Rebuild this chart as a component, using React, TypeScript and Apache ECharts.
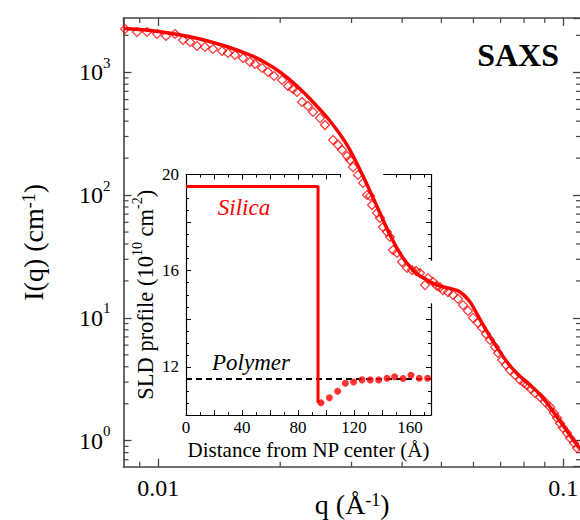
import React, { useEffect, useRef } from 'react';
import * as echarts from 'echarts';

// SAXS measured data (q in Å^-1, I in cm^-1)
const qData = [
  0.00828, 0.00886, 0.00938, 0.00993, 0.01045, 0.011, 0.01151, 0.01198, 0.01246, 0.01304,
  0.01365, 0.01437, 0.01486, 0.01547, 0.01619, 0.01684, 0.01733, 0.01803, 0.01866, 0.01931,
  0.02021, 0.02091, 0.02151,
  0.02201, 0.02264, 0.02342, 0.0241, 0.02508, 0.0258, 0.027, 0.02778, 0.02842, 0.02924,
  0.02974, 0.03025, 0.03112, 0.03202, 0.03276, 0.03332, 0.03371, 0.03467, 0.03527, 0.03588,
  0.0367, 0.03733, 0.03798, 0.03885, 0.03997, 0.04113, 0.04231, 0.04328, 0.04428, 0.04555,
  0.04634, 0.04768, 0.04877, 0.04962,
  0.05047, 0.05192, 0.05342, 0.05495, 0.05653, 0.05817, 0.05984, 0.06157, 0.06299, 0.06444,
  0.06592, 0.06782, 0.06899, 0.07057, 0.0722, 0.07386, 0.07598, 0.07818, 0.07998, 0.08136,
  0.08322, 0.08514, 0.0876, 0.09013, 0.09273, 0.09484, 0.09648, 0.09815, 0.09984, 0.1021,
  0.1039, 0.1063, 0.1081,
];
const iData = [
  2252, 2129, 2129, 2051, 1975, 2051, 1832, 1765, 1637, 1607,
  1548, 1491, 1436, 1383, 1307, 1213, 1169, 1084, 1006, 933,
  866, 773, 731,
  691, 573, 532, 475, 424, 372, 281, 256, 233, 208,
  193, 169, 146, 125.5, 100.2, 98.3, 83.0, 71.5, 65.1, 55.0,
  50.1, 45.6, 35.7, 33.8, 28.5, 25.5, 24.5, 24.1, 23.2, 18.5,
  21.1, 19.6, 18.2, 17.8,
  16.8, 16.2, 15.4, 14.3, 12.7, 11.4, 10.0, 9.09, 8.28, 7.39,
  6.61, 5.79, 5.18, 4.54, 4.14, 3.76, 3.43, 3.12, 2.95, 2.84,
  2.64, 2.45, 2.27, 2.07, 1.88, 1.68, 1.53, 1.39, 1.27, 1.155,
  1.052, 0.958, 0.872,
];

// Model fit
const qFit = [
  0.00823, 0.009539, 0.010996, 0.012678, 0.01461, 0.016842, 0.018346, 0.019977, 0.022001, 0.024099,
  0.026542, 0.029239, 0.031843, 0.034281, 0.03734, 0.0402, 0.04256, 0.04429, 0.04877, 0.05251,
  0.05559, 0.05885, 0.06124, 0.06336, 0.06592, 0.0686, 0.07261, 0.07686, 0.08137, 0.08613,
  0.09117, 0.09648, 0.10212, 0.10809, 0.1105,
];
const iFit = [
  2273, 2190, 2051, 1867, 1637, 1383, 1202, 1006, 773, 573,
  401, 256, 148.5, 87.9, 47.3, 30.7, 24.5, 21.9, 18.5, 17.35,
  16.25, 13.47, 10.76, 8.76, 7.06, 5.74, 4.375, 3.525, 2.978, 2.516,
  2.028, 1.56, 1.2, 0.923, 0.845,
];

// Minor tick values of the log axes
const xMinorTicks = [0.009, 0.02, 0.03, 0.04, 0.05, 0.06, 0.07, 0.08, 0.09];
const yMinorTicks = [
  0.7, 0.8, 0.9, 2, 3, 4, 5, 6, 7, 8, 9, 20, 30, 40, 50, 60, 70, 80, 90,
  200, 300, 400, 500, 600, 700, 800, 900, 2000,
];

// Inset: SLD profile
const distDots = [96.4, 102.4, 108.3, 113.8, 119.7, 125.7, 131.6, 137.6, 143.6, 149.0, 155.0, 160.7, 166.6, 172.6];
const sldDots = [10.51, 10.72, 10.99, 11.32, 11.37, 11.46, 11.46, 11.46, 11.53, 11.59, 11.52, 11.65, 11.53, 11.53];
const silicaX = [0, 94.3, 94.3];
const silicaY = [19.5, 19.5, 10.5];
const polymerX = [0, 175];
const polymerY = [11.5, 11.5];

const FONT = '"Liberation Serif", "Times New Roman", "DejaVu Serif", serif';
const RED = '#ff0000';
const AXIS = '#444';

const isPow10 = (v: number) => Math.abs(Math.log10(v) - Math.round(Math.log10(v))) < 1e-6;

export default function App() {
  const ref = useRef<HTMLDivElement>(null);
  useEffect(() => {
    if (!ref.current) return;
    const chart = echarts.init(ref.current, null, { renderer: 'svg' });
    const fit = qFit.map((q, i) => [q, iFit[i]]);
    const pts = qData.map((q, i) => [q, iData[i]]);
    const dots = distDots.map((d, i) => [d, sldDots[i]]);
    const silica = silicaX.map((d, i) => [d, silicaY[i]]);
    const polymer = polymerX.map((d, i) => [d, polymerY[i]]);

    const mainTick = { show: true, inside: true, length: 8, lineStyle: { color: AXIS, width: 1.3 } };
    const mainLine = { show: true, lineStyle: { color: AXIS, width: 1.6 } };
    const insetLine = { show: true, onZero: false, lineStyle: { color: '#000', width: 1.2 } };
    const insetTick = { show: true, inside: true, length: 5, lineStyle: { color: '#000', width: 1 } };
    const insetMinor = { show: true, length: 3, lineStyle: { color: '#000', width: 1 } };
    const xMin = 0.008206, xMax = 0.11058, yMin = 0.6141, yMax = 2768;
    const titleRich = {
      a: { fontSize: 28, fontFamily: FONT, color: '#000', lineHeight: 28 },
      b: { fontSize: 18, fontFamily: FONT, color: '#000', lineHeight: 4, verticalAlign: 'top' },
    };

    const option: any = {
      animation: false,
      backgroundColor: '#fff',
      grid: [
        { left: 123.5, top: 18, right: -1, bottom: 53.3, containLabel: false, outerBoundsMode: 'none' },
        { left: 186, top: 174.5, right: 149, bottom: 105, containLabel: false, outerBoundsMode: 'none' },
      ],
      xAxis: [
        {
          gridIndex: 0, type: 'log', logBase: 10, min: xMin, max: xMax, position: 'bottom', z: 5,
          axisLine: mainLine, axisTick: mainTick, splitLine: { show: false },
          axisLabel: {
            formatter: (v: number) => (isPow10(v) ? String(Number(v.toPrecision(6))) : ''),
            fontSize: 24, fontFamily: FONT, color: '#000', margin: 9,
            showMinLabel: false, showMaxLabel: false,
          },
          name: '{a|q (Å}{b|-1}{a|)}', nameLocation: 'middle', nameGap: 24, nameMoveOverlap: false,
          nameTextStyle: { rich: titleRich },
        },
        {
          gridIndex: 0, type: 'log', logBase: 10, min: xMin, max: xMax, position: 'top', z: 5,
          axisLine: mainLine, axisTick: mainTick, splitLine: { show: false }, axisLabel: { show: false },
        },
        {
          gridIndex: 1, type: 'value', min: 0, max: 175, interval: 20, position: 'bottom',
          axisLine: insetLine, axisTick: insetTick, minorTick: { ...insetMinor, splitNumber: 2 },
          splitLine: { show: false },
          axisLabel: {
            formatter: (v: number) => (v % 40 === 0 ? String(v) : ''),
            fontSize: 17, fontFamily: FONT, color: '#000', margin: 4, showMaxLabel: false,
          },
          name: 'Distance from NP center (Å)', nameLocation: 'middle', nameGap: 24, nameMoveOverlap: false,
          nameTextStyle: { fontSize: 21, fontFamily: FONT, color: '#000' },
        },
        {
          gridIndex: 1, type: 'value', min: 0, max: 175, interval: 20, position: 'top',
          axisLine: insetLine, axisTick: insetTick, minorTick: { ...insetMinor, splitNumber: 2 },
          splitLine: { show: false }, axisLabel: { show: false },
        },
      ],
      yAxis: [
        {
          gridIndex: 0, type: 'log', logBase: 10, min: yMin, max: yMax, position: 'left', z: 5,
          axisLine: mainLine, axisTick: mainTick, splitLine: { show: false },
          axisLabel: {
            formatter: (v: number) => (isPow10(v) ? '{a|10}{b|' + Math.round(Math.log10(v)) + '}' : ''),
            margin: 13, showMinLabel: false, showMaxLabel: false,
            rich: {
              a: { fontSize: 24, fontFamily: FONT, color: '#000', lineHeight: 34 },
              b: { fontSize: 15, fontFamily: FONT, color: '#000', lineHeight: 15, verticalAlign: 'top' },
            },
          },
          name: '{a|I(q) (cm}{b|-1}{a|)}', nameLocation: 'middle', nameGap: 76, nameRotate: 90, nameMoveOverlap: false,
          nameTextStyle: { rich: titleRich },
        },
        {
          gridIndex: 0, type: 'log', logBase: 10, min: yMin, max: yMax, position: 'right', z: 5,
          axisLine: mainLine, axisTick: mainTick, splitLine: { show: false }, axisLabel: { show: false },
        },
        {
          gridIndex: 1, type: 'value', min: 10, max: 20, interval: 2, position: 'left',
          axisLine: insetLine, axisTick: insetTick, minorTick: { ...insetMinor, splitNumber: 4 },
          splitLine: { show: false },
          axisLabel: {
            formatter: (v: number) => (v % 4 === 0 ? String(v) : ''),
            fontSize: 17, fontFamily: FONT, color: '#000', margin: 7,
          },
          name: '{a|SLD profile (10}{b|10}{a| cm}{b|-2}{a|)}', nameLocation: 'middle', nameGap: 26, nameRotate: 90,
          nameMoveOverlap: false,
          nameTextStyle: {
            rich: {
              a: { fontSize: 22.5, fontFamily: FONT, color: '#000', lineHeight: 30 },
              b: { fontSize: 14, fontFamily: FONT, color: '#000', lineHeight: 11, verticalAlign: 'top' },
            },
          },
        },
        {
          gridIndex: 1, type: 'value', min: 10, max: 20, interval: 2, position: 'right',
          axisLine: insetLine, axisTick: insetTick, minorTick: { ...insetMinor, splitNumber: 4 },
          splitLine: { show: false }, axisLabel: { show: false },
        },
      ],
      series: [
        {
          // white halo around the fit that masks the inset frame
          type: 'line', xAxisIndex: 0, yAxisIndex: 0, data: fit, smooth: 0.3, showSymbol: false,
          silent: true, z: 1, lineStyle: { color: '#fff', width: 38 },
        },
        {
          type: 'custom', xAxisIndex: 0, yAxisIndex: 0, z: 5, silent: true,
          data: xMinorTicks.map((v) => [v, 1]),
          renderItem: (params: any, api: any) => {
            const cs = params.coordSys;
            const x = api.coord([api.value(0), 1])[0];
            const st = { stroke: AXIS, lineWidth: 1.2 };
            return {
              type: 'group',
              children: [
                { type: 'line', shape: { x1: x, y1: cs.y, x2: x, y2: cs.y + 5 }, style: st },
                { type: 'line', shape: { x1: x, y1: cs.y + cs.height, x2: x, y2: cs.y + cs.height - 5 }, style: st },
              ],
            };
          },
        },
        {
          type: 'custom', xAxisIndex: 0, yAxisIndex: 0, z: 5, silent: true,
          data: yMinorTicks.map((v) => [0.01, v]),
          renderItem: (params: any, api: any) => {
            const cs = params.coordSys;
            const y = api.coord([0.01, api.value(1)])[1];
            const st = { stroke: AXIS, lineWidth: 1.2 };
            return {
              type: 'group',
              children: [
                { type: 'line', shape: { x1: cs.x, y1: y, x2: cs.x + 5, y2: y }, style: st },
                { type: 'line', shape: { x1: cs.x + cs.width, y1: y, x2: cs.x + cs.width - 5, y2: y }, style: st },
              ],
            };
          },
        },
        {
          type: 'line', xAxisIndex: 2, yAxisIndex: 2, data: polymer, showSymbol: false, z: 3, silent: true,
          lineStyle: { color: '#000', width: 2, type: [6, 4] },
        },
        {
          type: 'line', xAxisIndex: 2, yAxisIndex: 2, data: silica, showSymbol: false, z: 3, silent: true,
          lineStyle: { color: RED, width: 3 },
        },
        {
          type: 'scatter', xAxisIndex: 2, yAxisIndex: 2, data: dots, symbol: 'circle', symbolSize: 7, z: 4,
          itemStyle: { color: RED },
        },
        {
          type: 'scatter', xAxisIndex: 0, yAxisIndex: 0, data: pts, symbol: 'diamond', symbolSize: 9, z: 6,
          itemStyle: { color: 'rgba(255,255,255,0)', borderColor: RED, borderWidth: 1.2 },
        },
        {
          type: 'line', xAxisIndex: 0, yAxisIndex: 0, data: fit, smooth: 0.3, showSymbol: false, z: 7,
          lineStyle: { color: RED, width: 3.5 },
        },
      ],
      graphic: [
        {
          type: 'text', x: 559, y: 55, z: 10,
          style: { text: 'SAXS', fontSize: 32, fontWeight: 'bold', fontFamily: FONT, fill: '#000', textAlign: 'right', textVerticalAlign: 'middle' },
        },
        {
          type: 'text', x: 244, y: 207, z: 10,
          style: { text: 'Silica', fontSize: 23, fontStyle: 'italic', fontFamily: FONT, fill: RED, textAlign: 'center', textVerticalAlign: 'middle' },
        },
        {
          type: 'text', x: 251, y: 362, z: 10,
          style: { text: 'Polymer', fontSize: 23, fontStyle: 'italic', fontFamily: FONT, fill: '#000', textAlign: 'center', textVerticalAlign: 'middle' },
        },
      ],
    };
    chart.setOption(option);
    return () => chart.dispose();
  }, []);
  return (
    <div
      ref={ref}
      style={{ position: 'fixed', left: 0, top: 0, width: 580, height: 520, background: '#fff' }}
    />
  );
}
